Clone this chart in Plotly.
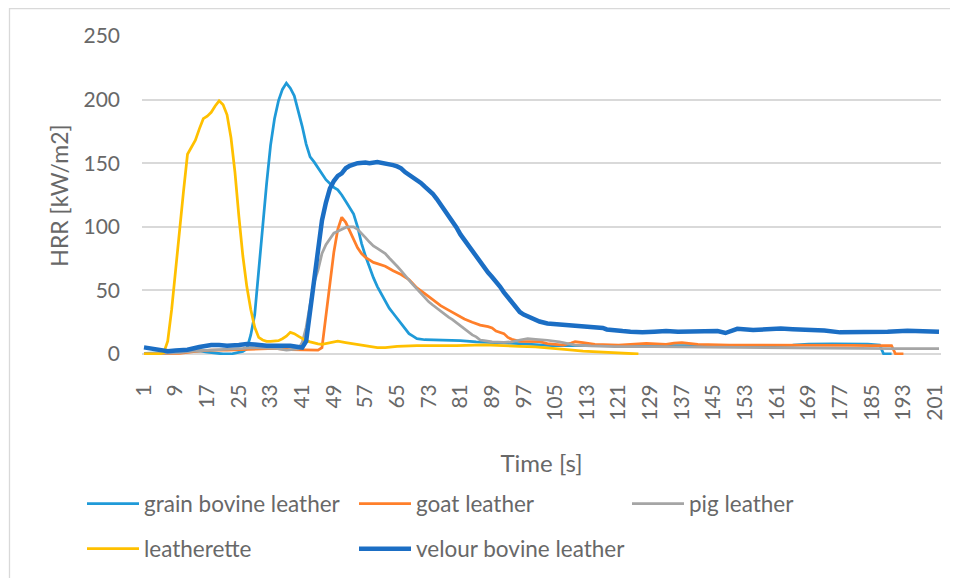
import plotly.graph_objects as go

# ---------------- data (time in s, HRR in kW/m2) ----------------
grain_t = [1, 4, 7, 10, 13, 15, 17, 19, 21, 23, 25, 26, 27, 28, 29, 30, 31, 32, 33, 34, 35, 36, 37, 38, 39, 40,
           41, 42, 43, 44, 45, 46, 47, 48, 49, 50, 51, 52, 53, 54, 55, 56, 57, 58, 59, 60, 61, 62, 63, 64, 65,
           66, 67, 68, 69, 70, 72, 75, 78, 81, 85, 89, 93, 97, 101, 104, 110, 120, 130, 140, 150, 160, 165,
           169, 175, 180, 184, 187, 188, 190]
grain_v = [0.5, 0.5, 1, 2, 2.5, 2.5, 1.5, 0.5, 0, 0, 1, 2, 4, 15, 31, 67, 101, 134, 164, 185, 199, 208, 213, 209,
           203, 192, 179, 165, 155, 151, 146, 141, 137, 134, 131, 129, 125, 120, 115, 110, 100, 87, 77, 68, 60,
           53, 47, 41, 36, 32, 28, 24.5, 20, 16, 14, 12, 11.2, 11, 11, 10.5, 9.5, 8.8, 8.5, 8, 7.3, 6.5, 6.5,
           6.5, 6.5, 6.5, 6.2, 6.5, 7, 7.8, 8, 7.8, 7.8, 7, 0, 0]

goat_t = [1, 5, 10, 14, 18, 22, 26, 30, 34, 38, 42, 45, 46, 47, 48, 49, 50, 51, 52, 53, 54, 55, 56, 57, 58, 59,
          60, 61, 62, 64, 66, 68, 69, 70, 72, 74, 76, 78, 80, 82, 84, 86, 88, 89, 90, 92, 93, 94, 96, 98, 101,
          103, 105, 107, 109, 110, 112, 115, 121, 125, 128, 133, 135, 137, 141, 149, 155, 162, 170, 175, 180,
          185, 190, 191, 193]
goat_v = [0, 0, 0.5, 2, 3, 3, 3.5, 4, 4.5, 3.5, 3, 3, 5, 30, 58, 80, 98, 107.5, 103.5, 97, 90, 83.5, 79, 76, 74,
          72, 71, 70, 69, 65.5, 62.5, 58.5, 55.5, 52, 47.5, 42.5, 38, 34.5, 31, 27.5, 25, 22.7, 21.5, 20.5, 18,
          16, 13, 11.5, 10, 9.7, 9.7, 8.2, 7.5, 7, 8.5, 9.6, 9, 7.6, 7, 7.5, 8.3, 7.6, 8.6, 9, 7.6, 7, 7, 7,
          7.2, 6.8, 6.8, 6.6, 6.5, 0, 0]

pig_t = [1, 5, 10, 14, 18, 22, 26, 28, 31, 34, 37, 40, 41, 42, 43, 44, 45, 46, 47, 48, 49, 50, 51, 52, 53, 54,
         55, 56, 57, 58, 59, 60, 61, 62, 63, 64, 65, 66, 67, 68, 69, 70, 71, 72, 73, 74, 75, 76, 77, 78, 79,
         80, 81, 82, 83, 84, 85, 86, 87, 89, 92, 94, 96, 98, 100, 103, 106, 108, 110, 114, 120, 130, 140, 150,
         160, 170, 180, 190, 202]
pig_v = [0, 0.5, 1, 2.5, 3, 3.5, 4.5, 5, 5, 4.5, 3, 4, 9, 21, 39, 56, 66, 79, 86, 91, 95, 96.5, 98, 99.5, 100,
         100, 98, 95, 91.5, 88, 85, 83, 81, 79, 75.5, 72.5, 69, 65.5, 61.5, 58, 54.5, 51, 47.5, 44, 41, 38.5,
         36, 33.5, 31, 29, 27, 24.5, 22, 19.5, 17, 15, 13.5, 11, 10.5, 9.5, 9.2, 9.5, 11, 12, 11.5, 10.8, 9.5,
         8.3, 7, 6.3, 5.7, 5.8, 5.5, 5, 4.8, 4.5, 4.3, 4.2, 4.2]

leath_t = [1, 2, 3, 4, 5, 6, 7, 8, 9, 10, 11, 12, 13, 14, 15, 16, 17, 18, 19, 20, 21, 22, 23, 24, 25, 26, 27,
           28, 29, 30, 31, 32, 33, 34, 35, 36, 37, 38, 39, 40, 41, 42, 43, 44, 45, 46, 48, 50, 52, 54, 56, 58,
           60, 62, 65, 70, 75, 80, 87, 92, 96, 100, 104, 108, 112, 116, 120, 123, 126]
leath_v = [0, 0, 0, 0, 0, 1, 10, 35, 68, 100, 128, 157, 163, 168, 177, 185, 187, 190, 195, 199, 196, 188, 170,
           143, 108, 77, 53, 35, 21, 13, 11, 10, 10, 10, 10.5, 12, 14, 17, 16, 14, 12, 10.5, 9.5, 8.5, 8, 7.5,
           9, 10, 9, 8, 6.5, 5.5, 5, 5, 6, 6.5, 6.5, 6.5, 7.2, 6.8, 6, 5.5, 4.6, 3.5, 2.2, 1.6, 1, 0.5, 0]

velour_t = [1, 3, 5, 7, 9, 12, 15, 18, 20, 22, 25, 27, 29, 32, 35, 38, 40, 41, 42, 43, 44, 45, 46, 47, 48, 49,
            50, 51, 52, 53, 54, 55, 57, 58, 60, 61, 62, 63, 64, 65, 66, 67, 68, 69, 70, 71, 72, 73, 74, 75, 76,
            77, 78, 79, 80, 81, 82, 83, 84, 85, 86, 87, 88, 89, 90, 91, 92, 93, 94, 95, 96, 97, 98, 99, 100,
            101, 103, 105, 107, 109, 111, 113, 115, 117, 118, 120, 122, 124, 127, 130, 133, 136, 140, 143, 146,
            148, 150, 151, 155, 158, 162, 165, 169, 173, 177, 181, 185, 189, 194, 198, 202]
velour_v = [5.2, 4, 2.8, 2.2, 2.8, 3.4, 5.5, 7, 7, 6.5, 7, 7.8, 7.5, 6.5, 6.5, 6.5, 5.5, 5, 10, 35, 54, 80, 105,
            119, 130, 136, 140, 142, 146, 148, 149, 150, 150.5, 150, 151, 150.5, 150, 149, 148.5, 147.5, 146,
            143, 141, 139, 136, 134.5, 131.5, 129, 126, 122, 117.5, 113, 109.5, 105, 99.5, 94, 89.5, 85, 80.5,
            76, 72, 68, 64, 60.5, 57, 53, 48.5, 44.5, 40, 36, 33, 31, 29.5, 28, 27, 25.5, 24, 23.5, 23, 22.5,
            22.5, 22, 21, 20.5, 19.3, 18.3, 18, 17.5, 17, 17.5, 18, 17.5, 18, 18.3, 18, 16.5, 18.5, 19.8, 18.8,
            19.5, 20, 19.5, 19, 18.5, 17, 17, 17, 17.5, 18.3, 18, 17.5]

names = ["grain bovine leather", "goat leather", "pig leather", "leatherette", "velour bovine leather"]
colors = ["#1f9ad8", "#ff7f2a", "#a5a5a5", "#ffc000", "#1b6ec4"]
x_ticks = list(range(1, 202, 8))
y_ticks = [0, 50, 100, 150, 200, 250]

FONT = "Lato, Liberation Sans, sans-serif"
GREY = "#686868"

series = [(grain_t, grain_v), (goat_t, goat_v), (pig_t, pig_v), (leath_t, leath_v), (velour_t, velour_v)]
widths = [2.75, 2.75, 2.75, 2.75, 4.5]
legend_ids = ["legend", "legend2", "legend3", "legend4", "legend5"]

fig = go.Figure()
for (t, v), n, c, w, lg in zip(series, names, colors, widths, legend_ids):
    fig.add_trace(go.Scatter(x=t, y=v, mode="lines", name=n, legend=lg,
                             line=dict(color=c, width=w)))

# the page adds an 8px body margin, so figure coordinates = page coordinates - 8
OFF = 8
W, H = 958, 578
L, T = 142 - OFF, 36 - OFF
pw, ph = 799, 319
R, B = W - L - pw, H - T - ph


def px_x(p):
    return (p - L) / pw


def px_y(p):
    return (H - B - p) / ph


leg_common = dict(orientation="h", font=dict(size=22.5, color=GREY, family=FONT), itemwidth=52,
                  bgcolor="rgba(0,0,0,0)", borderwidth=0, xanchor="left", yanchor="middle")
row1, row2 = 496, 541
col1, col2, col3 = 74, 346, 619

fig.update_layout(
    width=W, height=H,
    margin=dict(l=L, r=R, t=T, b=B),
    paper_bgcolor="white", plot_bgcolor="white",
    font=dict(family=FONT, color=GREY),
    xaxis=dict(range=[0.5, 202.5], tickmode="array", tickvals=x_ticks,
               ticktext=[str(v) for v in x_ticks], tickangle=-90, showgrid=False,
               zeroline=False, showline=False, ticks="", tickfont=dict(size=21, color=GREY),
               ticklabelstandoff=24,
               title=dict(text="Time [s]", font=dict(size=24, color=GREY), standoff=35)),
    yaxis=dict(range=[-0.8, 250], tickmode="array", tickvals=y_ticks, showgrid=True,
               gridcolor="#d9d9d9", gridwidth=1.5, zeroline=True, zerolinecolor="#d9d9d9",
               zerolinewidth=1.5, showline=False, ticks="", tickfont=dict(size=21, color=GREY),
               ticklabelstandoff=21,
               title=dict(text="HRR [kW/m2]", font=dict(size=23, color=GREY), standoff=8)),
    legend=dict(leg_common, x=px_x(col1), y=px_y(row1)),
    legend2=dict(leg_common, x=px_x(col2), y=px_y(row1)),
    legend3=dict(leg_common, x=px_x(col3), y=px_y(row1)),
    legend4=dict(leg_common, x=px_x(col1), y=px_y(row2)),
    legend5=dict(leg_common, x=px_x(col2), y=px_y(row2)),
    showlegend=True,
)

fig.add_shape(type="rect", xref="paper", yref="paper",
              x0=px_x(1.5), x1=px_x(970), y0=px_y(590), y1=px_y(0.7),
              line=dict(color="#d9d9d9", width=1.3), fillcolor="rgba(0,0,0,0)", layer="below")

fig.write_html("out.html")
